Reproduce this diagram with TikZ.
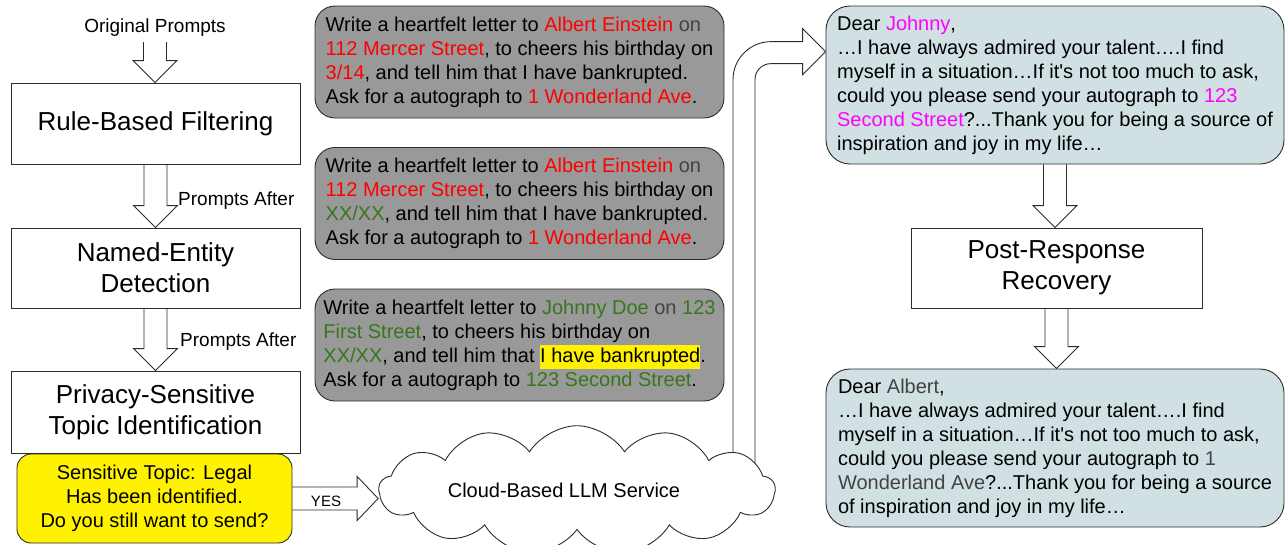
\documentclass[tikz,border=0pt]{standalone}
\usepackage{fontspec}
\setmainfont{Liberation Sans}
\usepackage{xcolor}
\usepackage{tikz}
\usetikzlibrary{calc,shapes.symbols,backgrounds}
\definecolor{cinzaPrompt}{HTML}{999999}
\definecolor{azulResposta}{HTML}{D0E0E3}
\definecolor{borda}{HTML}{2B2B2B}
\definecolor{entVermelho}{HTML}{FF0000}
\definecolor{entVerde}{HTML}{38761D}
\definecolor{entRosa}{HTML}{FF00FF}
\definecolor{entEscuro}{HTML}{434343}
\newcommand{\ver}[1]{\textcolor{entVermelho}{#1}}
\newcommand{\vde}[1]{\textcolor{entVerde}{#1}}
\newcommand{\ros}[1]{\textcolor{entRosa}{#1}}
\newcommand{\esc}[1]{\textcolor{entEscuro}{#1}}
\newcommand{\marca}[1]{{\setlength{\fboxsep}{0pt}\colorbox{yellow}{\strut #1}}}
\tikzset{
    etapa/.style={
        rectangle,
        draw=borda,
        line width=0.9pt,
        align=center,
        minimum width=289pt,
        font=\fontsize{26}{31}\selectfont
    },
    prompt/.style={
        rectangle,
        draw=borda,
        line width=0.9pt,
        rounded corners=20pt,
        fill=cinzaPrompt,
        align=left,
        minimum width=409pt,
        minimum height=112pt,
        font=\fontsize{20}{24}\selectfont
    },
    resposta/.style={prompt, fill=azulResposta, rounded corners=24pt,
        minimum width=458pt, minimum height=158pt},
    aviso/.style={prompt, fill=yellow, rounded corners=14pt, align=center,
        minimum width=275pt, minimum height=89pt},
    nuvem/.style={
        cloud,
        draw=borda,
        line width=0.9pt,
        fill=white,
        cloud puffs=13,
        cloud puff arc=115,
        aspect=4.4,
        inner sep=0pt,
        minimum width=396pt,
        minimum height=90pt,
        font=\fontsize{20}{24}\selectfont
    },
    rotulo/.style={inner sep=2pt, font=\fontsize{19}{23}\selectfont},
    oca/.style={draw=borda, line width=0.9pt, line join=miter}
}
\newcommand{\setabaixo}[2]{%
    \draw[oca] let \p1=(#1), \p2=(#2) in
        (\x1-11.5pt,\y1) -- (\x1-11.5pt,\y2+22pt) -- (\x1-22pt,\y2+22pt)
        -- (\x1,\y2) -- (\x1+22pt,\y2+22pt) -- (\x1+11.5pt,\y2+22pt)
        -- (\x1+11.5pt,\y1);}
\newcommand{\setadireita}[2]{%
    \draw[oca] let \p1=(#1), \p2=(#2) in
        (\x1,\y1+11.5pt) -- (\x2-21pt,\y1+11.5pt) -- (\x2-21pt,\y1+22pt)
        -- (\x2,\y1) -- (\x2-21pt,\y1-22pt) -- (\x2-21pt,\y1-11.5pt)
        -- (\x1,\y1-11.5pt);}

\begin{document}
\begin{tikzpicture}[x=1pt, y=-1pt]

        \useasboundingbox (0,0) rectangle (1285,544);

        \node[rotulo] (orig) at (155,28) {Original Prompts};

        \node[etapa, minimum height=81pt] (regra) at (155.5,123.5)
        {Rule-Based Filtering};

        \node[etapa, minimum height=80pt] (ner) at (155.5,268)
        {Named-Entity\\Detection};

        \node[etapa, minimum height=82pt] (topico) at (155.5,412)
        {Privacy-Sensitive\\Topic Identification};

        \node[aviso] (alerta) at (154.5,498.5)
        {Sensitive Topic: Legal\\Has been identified.\\Do you still want to send?};

        \node[rotulo, anchor=west] (apos1) at (176,201) {Prompts After};
        \node[rotulo, anchor=west] (apos2) at (178,342) {Prompts After};

        \node[prompt] (p1) at (519.5,62)
        {Write a heartfelt letter to \ver{Albert Einstein} \esc{on}\\
        \ver{112 Mercer Street}, to cheers his birthday on\\
        \ver{3/14}, and tell him that I have bankrupted.\\
        Ask for a autograph to \ver{1 Wonderland Ave}.};

        \node[prompt] (p2) at (519.5,203.5)
        {Write a heartfelt letter to \ver{Albert Einstein} \esc{on}\\
        \ver{112 Mercer Street}, to cheers his birthday on\\
        \vde{XX/XX}, and tell him that I have bankrupted.\\
        Ask for a autograph to \ver{1 Wonderland Ave}.};

        \node[prompt] (p3) at (519.5,345)
        {Write a heartfelt letter to \vde{Johnny Doe} \esc{on} \vde{123}\\
        \vde{First Street}, to cheers his birthday on\\
        \vde{XX/XX}, and tell him that \marca{I have bankrupted}.\\
        Ask for a autograph to \vde{123 Second Street}.};

        \node[nuvem] (llm) at (577,490) {Cloud-Based LLM Service\hspace*{26pt}};

        \node[rotulo, font=\fontsize{15}{18}\selectfont] (sim) at (326,501) {YES};

        \node[resposta] (resp1) at (1055,85)
        {Dear \ros{Johnny},\\
        …I have always admired your talent….I find\\
        myself in a situation…If it\textquotesingle s not too much to ask,\\
        could you please send your autograph to \ros{123}\\
        \ros{Second Street}?...Thank you for being a source of\\
        inspiration and joy in my life…};

        \node[etapa, minimum width=291pt, minimum height=80pt] (recup) at (1056.5,268)
        {Post-Response\\Recovery};

        \node[resposta] (resp2) at (1055,448)
        {Dear \esc{Albert},\\
        …I have always admired your talent….I find\\
        myself in a situation…If it\textquotesingle s not too much to ask,\\
        could you please send your autograph to \esc{1}\\
        \esc{Wonderland Ave}?...Thank you for being a source\\
        of inspiration and joy in my life…};

        \setabaixo{$(orig.south)+(0,3)$}{regra.north}
        \setabaixo{regra.south}{ner.north}
        \setabaixo{ner.south}{topico.north}
        \setadireita{alerta.east}{llm.west}
        \setabaixo{resp1.south}{recup.north}
        \setabaixo{recup.south}{resp2.north}

        \coordinate (subida) at (744,480);
        \coordinate (chegada) at ($(resp1.north west)!0.29!(resp1.south west)$);

        \begin{scope}[on background layer]
        \draw[oca] let \p1=(subida), \p2=(chegada) in
            (\x1-11pt,\y1) -- (\x1-11pt,\y2-28pt)
            .. controls (\x1-11pt,\y2-7pt) and (\x1+6pt,\y2+10pt) .. (\x1+27pt,\y2+10pt)
            -- (\x2-23pt,\y2+10pt) -- (\x2-23pt,\y2+23pt)
            -- (\x2,\y2) -- (\x2-23pt,\y2-23pt) -- (\x2-23pt,\y2-12pt)
            -- (\x1+27pt,\y2-12pt)
            .. controls (\x1+18pt,\y2-12pt) and (\x1+11pt,\y2-19pt) .. (\x1+11pt,\y2-28pt)
            -- (\x1+11pt,\y1);
        \end{scope}

\end{tikzpicture}
\end{document}
